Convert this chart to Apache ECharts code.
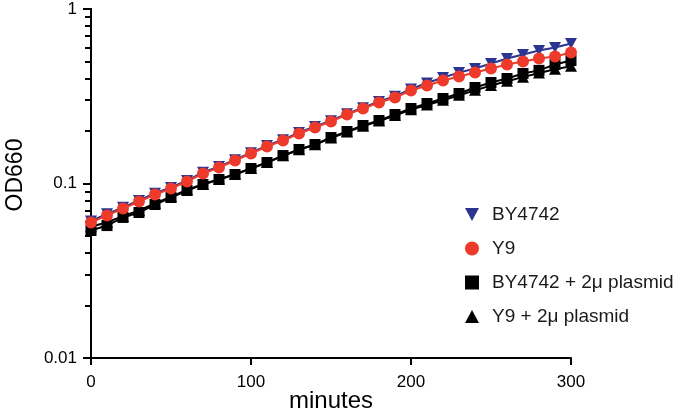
<!DOCTYPE html>
<html>
<head>
<meta charset="utf-8">
<script src="https://cdn.jsdelivr.net/npm/echarts@6/dist/echarts.min.js"></script>
<style>html,body{margin:0;padding:0;background:#fff;}#c{width:676px;height:411px;}</style>
</head>
<body>
<div id="c"></div>
<script>
const minutes = [0,10,20,30,40,50,60,70,80,90,100,110,120,130,140,150,160,170,180,190,200,210,220,230,240,250,260,270,280,290,300];
const by4742 = [0.061,0.067,0.073,0.080,0.088,0.095,0.104,0.116,0.125,0.137,0.150,0.165,0.178,0.196,0.212,0.229,0.251,0.272,0.295,0.316,0.348,0.377,0.405,0.432,0.456,0.487,0.520,0.548,0.578,0.602,0.634];
const y9 = [0.0598,0.0656,0.0719,0.0788,0.0865,0.0936,0.1027,0.1141,0.1235,0.1354,0.1485,0.1629,0.1763,0.1934,0.2094,0.2266,0.2485,0.2690,0.2912,0.3111,0.3411,0.3643,0.3893,0.4104,0.4326,0.4560,0.4808,0.5001,0.5204,0.5343,0.5632];
const by4742Plasmid = [0.0538,0.0574,0.0639,0.0682,0.0758,0.0831,0.0912,0.0987,0.1054,0.1126,0.1219,0.1319,0.1446,0.1566,0.1673,0.1834,0.1986,0.2150,0.2296,0.2485,0.2690,0.2873,0.3070,0.3280,0.3549,0.3792,0.3997,0.4269,0.4450,0.4808,0.5068];
const y9Plasmid = [0.0565,0.060,0.065,0.070,0.077,0.084,0.092,0.099,0.106,0.113,0.122,0.132,0.144,0.156,0.167,0.182,0.197,0.213,0.228,0.245,0.265,0.282,0.300,0.320,0.342,0.364,0.385,0.407,0.430,0.452,0.470];
const xTicks = [0,100,200,300];
const yMajor = [0.01,0.1,1];
const yMinor = [0.02,0.03,0.04,0.05,0.06,0.07,0.08,0.09,0.2,0.3,0.4,0.5,0.6,0.7,0.8,0.9];
const names = ['BY4742','Y9','BY4742 + 2\u03bc plasmid','Y9 + 2\u03bc plasmid'];

const BLUE = '#2b3590', RED = '#ee3a2a', BLACK = '#000000';
const downTri = 'path://M0,0 L12,0 L6,11 Z';
const upTri = 'path://M6,0 L12,11 L0,11 Z';
const square = 'path://M0,0 L10,0 L10,10 L0,10 Z';
const font = 'Liberation Sans, Arial, Helvetica, sans-serif';

function pts(arr){ return minutes.map((m,i)=>[m, arr[i]]); }

const chart = echarts.init(document.getElementById('c'));
chart.setOption({
  animation:false,
  backgroundColor:'#fff',
  grid:{left:91,right:105,top:9,bottom:53, containLabel:false, outerBoundsMode:'none'},
  legend:{
    orient:'vertical', left:460, top:200, itemGap:15, itemWidth:14, itemHeight:14,
    textStyle:{fontFamily:font, fontSize:19, color:'#1a1a1a', padding:[0,0,0,8]},
    data:[
      {name:names[0], icon:downTri},
      {name:names[1], icon:'circle'},
      {name:names[2], icon:square},
      {name:names[3], icon:upTri}
    ]
  },
  xAxis:{
    type:'value', min:0, max:300, interval:100,
    name:'minutes', nameLocation:'middle', nameGap:31, nameMoveOverlap:false,
    nameTextStyle:{fontFamily:font, fontSize:24, color:'#000', verticalAlign:'top'},
    axisLine:{lineStyle:{color:'#000', width:2}},
    axisTick:{show:true, length:7, lineStyle:{color:'#000', width:2}},
    axisLabel:{fontFamily:font, fontSize:17, color:'#000', margin:16, customValues:xTicks},
    splitLine:{show:false}
  },
  yAxis:[{
    type:'log', logBase:10, min:0.01, max:1,
    name:'OD660', nameLocation:'middle', nameGap:64, nameRotate:90, nameMoveOverlap:false,
    nameTextStyle:{fontFamily:font, fontSize:23, color:'#000', padding:[0,0,0,17]},
    axisLine:{show:true, lineStyle:{color:'#000', width:2}},
    axisTick:{show:true, length:8, lineStyle:{color:'#000', width:2}, customValues:yMajor},
    axisLabel:{fontFamily:font, fontSize:17, color:'#000', margin:14, customValues:yMajor,
      formatter:v=>String(+v.toPrecision(3))},
    splitLine:{show:false}
  },{
    type:'log', logBase:10, min:0.01, max:1, position:'left', offset:0,
    axisLine:{show:true, lineStyle:{color:'#000', width:2}},
    axisTick:{show:true, length:6, lineStyle:{color:'#000', width:2}, customValues:yMinor},
    axisLabel:{show:false},
    splitLine:{show:false}
  }],
  series:[
    {name:names[0], type:'line', data:pts(by4742), z:3, symbol:downTri, symbolSize:[12,11],
     itemStyle:{color:BLUE}, lineStyle:{color:BLUE, width:2}},
    {name:names[1], type:'line', data:pts(y9), z:4, symbol:'circle', symbolSize:12,
     itemStyle:{color:RED}, lineStyle:{color:RED, width:2}},
    {name:names[2], type:'line', data:pts(by4742Plasmid), z:2, symbol:square, symbolSize:11,
     itemStyle:{color:BLACK}, lineStyle:{color:BLACK, width:2}},
    {name:names[3], type:'line', data:pts(y9Plasmid), z:1, symbol:upTri, symbolSize:[12,11],
     itemStyle:{color:BLACK}, lineStyle:{color:BLACK, width:2}}
  ]
});
</script>
</body>
</html>
